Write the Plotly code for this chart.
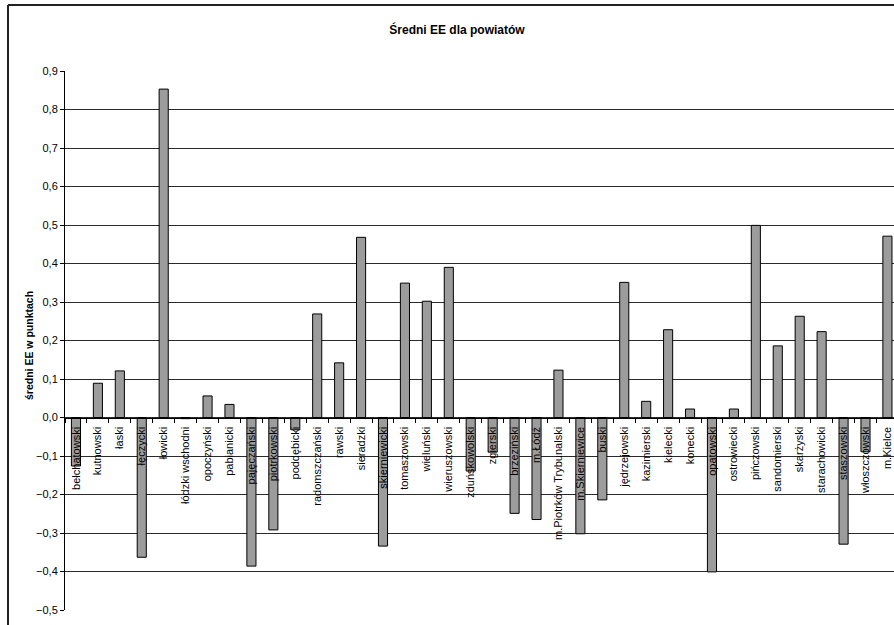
import plotly.graph_objects as go

# Powiaty (districts) and their mean EE score in points
powiaty = [
    "bełchatowski", "kutnowski", "łaski", "łęczycki", "łowicki",
    "łódzki wschodni", "opoczyński", "pabianicki", "pajęczański", "piotrkowski",
    "poddębicki", "radomszczański", "rawski", "sieradzki", "skierniewicki",
    "tomaszowski", "wieluński", "wieruszowski", "zduńskowolski", "zgierski",
    "brzeziński", "m.Łódź", "m.Piotrków Trybunalski", "m.Skierniewice", "buski",
    "jędrzejowski", "kazimierski", "kielecki", "konecki", "opatowski",
    "ostrowiecki", "pińczowski", "sandomierski", "skarżyski", "starachowicki",
    "staszowski", "włoszczowski", "m.Kielce",
]
sredni_ee = [
    -0.126, 0.089, 0.121, -0.363, 0.853,
    -0.003, 0.056, 0.034, -0.386, -0.292,
    -0.032, 0.269, 0.142, 0.468, -0.334,
    0.349, 0.302, 0.390, -0.139, -0.090,
    -0.249, -0.265, 0.123, -0.302, -0.214,
    0.351, 0.042, 0.228, 0.022, -0.401,
    0.022, 0.499, 0.186, 0.263, 0.223,
    -0.329, -0.089, 0.471,
]
y_min, y_max = -0.5, 0.9
y_ticks = [round(-0.5 + 0.1 * i, 1) for i in range(15)]

W, H = 894, 625
ML, MR, MT, MB = 65, 0, 71, 15
plot_w = W - ML - MR
plot_h = H - MT - MB

FONT = "Liberation Sans, Arial, sans-serif"

fig = go.Figure(
    go.Bar(
        x=powiaty,
        y=sredni_ee,
        marker=dict(color="#9c9c9c", line=dict(color="#000000", width=1)),
        hoverinfo="x+y",
    )
)

# category axis sits on the zero line
zero_pos = (0 - y_min) / (y_max - y_min)

fig.update_layout(
    width=W,
    height=H,
    margin=dict(l=ML, r=MR, t=MT, b=MB, pad=0),
    paper_bgcolor="white",
    plot_bgcolor="white",
    separators=", ",
    bargap=0.585,
    showlegend=False,
    font=dict(family=FONT, color="#000000"),
    title=dict(
        text="<b>Średni EE dla powiatów</b>",
        x=457 / W,
        xanchor="center",
        xref="container",
        y=1 - 30 / H,
        yanchor="middle",
        yref="container",
        font=dict(family=FONT, size=12, color="#000000"),
    ),
    xaxis=dict(
        type="category",
        range=[-0.5, len(powiaty) - 1 + 0.30],
        anchor="free",
        position=zero_pos,
        showline=True,
        linecolor="#000000",
        linewidth=1,
        ticks="outside",
        tickson="boundaries",
        ticklen=4,
        tickcolor="#000000",
        tickangle=-90,
        ticklabelstandoff=4,
        tickfont=dict(family=FONT, size=11, color="#000000"),
        showgrid=False,
        zeroline=False,
    ),
    yaxis=dict(
        range=[y_min, y_max],
        tickvals=y_ticks,
        tickformat=".1f",
        showline=True,
        linecolor="#000000",
        linewidth=1,
        ticks="outside",
        ticklen=4,
        tickcolor="#000000",
        tickfont=dict(family=FONT, size=11, color="#000000"),
        showgrid=True,
        gridcolor="#2a2a2a",
        gridwidth=1,
        zeroline=False,
    ),
    annotations=[
        dict(
            text="<b>średni EE w punktach</b>",
            xref="paper",
            yref="paper",
            x=(29 - ML) / plot_w,
            y=(H - MB - 346) / plot_h,
            xanchor="center",
            yanchor="middle",
            textangle=-90,
            showarrow=False,
            font=dict(family=FONT, size=10.5, color="#000000"),
        )
    ],
)

# outer chart frame (top and left edges)
fx = (8 - ML) / plot_w
fy_top = (H - MB - 5) / plot_h
fy_bot = (H - MB - H) / plot_h
frame = dict(color="#222222", width=2)
fig.add_shape(type="line", xref="paper", yref="paper",
              x0=fx, x1=1.2, y0=fy_top, y1=fy_top, line=frame)
fig.add_shape(type="line", xref="paper", yref="paper",
              x0=fx, x1=fx, y0=fy_top, y1=fy_bot, line=frame)

fig.write_html("out.html")
